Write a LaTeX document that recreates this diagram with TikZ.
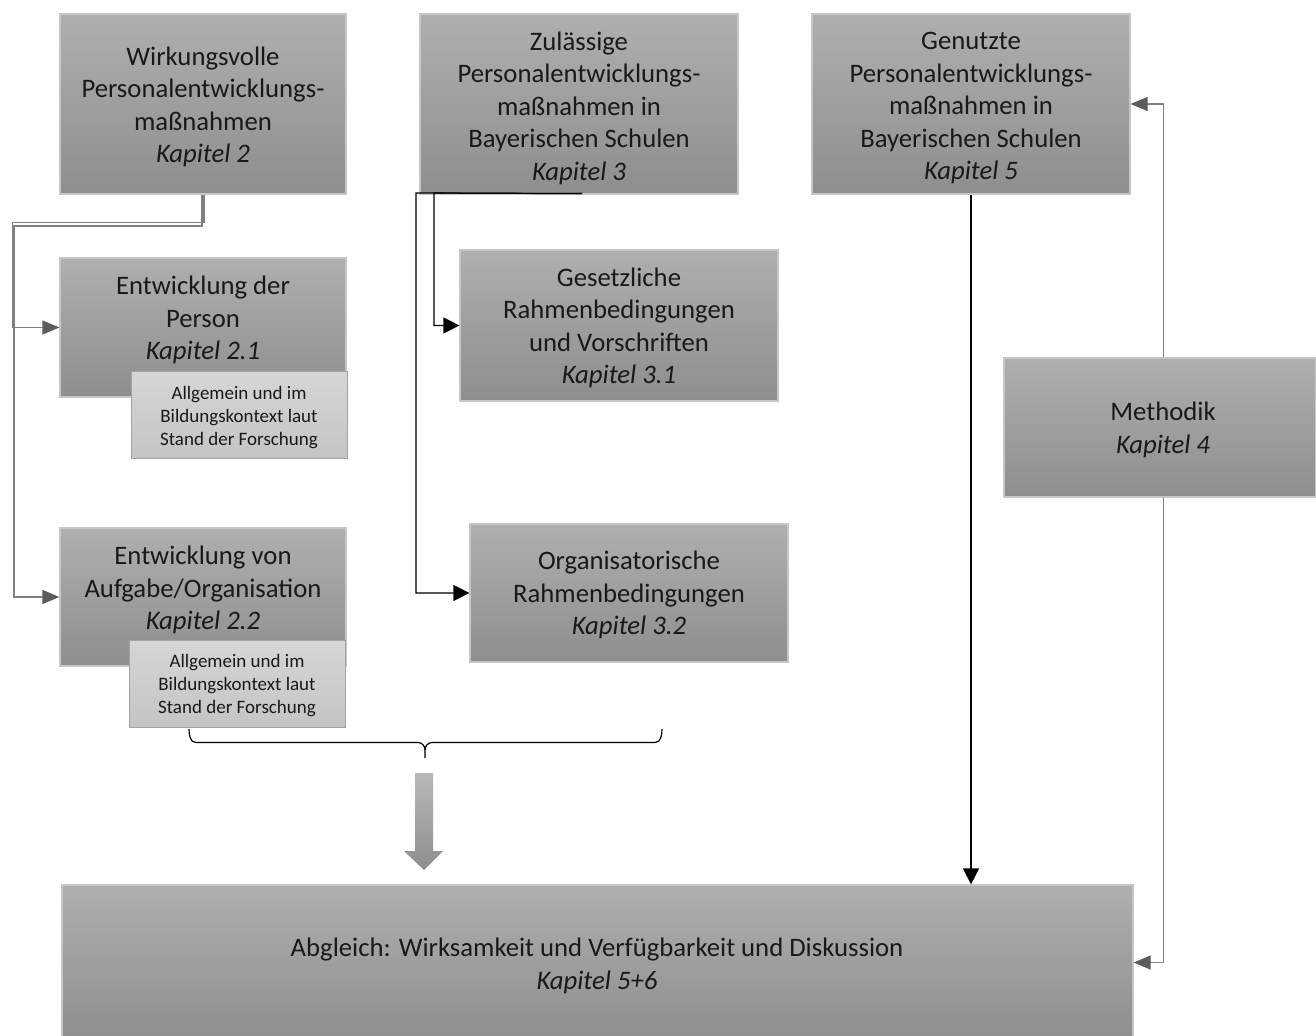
\documentclass[tikz,border=0pt]{standalone}
\usepackage{fontspec}
\setmainfont{Carlito}
\usetikzlibrary{arrows.meta,fit,calc}
\definecolor{boxtop}{HTML}{AFAFAF}
\definecolor{boxbot}{HTML}{8E8E8E}
\definecolor{boxline}{HTML}{C6C6C6}
\definecolor{notetop}{HTML}{D6D6D6}
\definecolor{notebot}{HTML}{C4C4C4}
\definecolor{noteline}{HTML}{A3A3A3}
\definecolor{conn}{HTML}{808080}
\definecolor{tipgray}{HTML}{5C5C5C}
\definecolor{arrtop}{HTML}{B8B8B8}
\definecolor{arrbot}{HTML}{8E8E8E}
\begin{document}
\begin{tikzpicture}[x=0.5pt,y=-0.5pt,
  box/.style={inner sep=0pt, top color=boxtop, bottom color=boxbot, draw=boxline, line width=0.6pt},
  note/.style={inner sep=0pt, top color=notetop, bottom color=notebot, draw=noteline, line width=0.5pt},
  txt/.style={align=center, font=\fontsize{13.35}{16.25}\selectfont, inner sep=0pt, text=black!90},
  ntxt/.style={align=center, font=\fontsize{9.5}{11.5}\selectfont, inner sep=0pt, text=black!90},
  grayc/.style={draw=conn, line width=0.6pt, -{Triangle[length=8.5pt,width=7pt,color=tipgray]}},
  blkc/.style={draw=black, line width=0.6pt, -{Triangle[length=8pt,width=8pt]}},
  bracec/.style={draw=black, line width=0.6pt}
]
\clip (0,0) rectangle (1316,1036);
\fill[white] (0,0) rectangle (1316,1036);

% main boxes
\node[box, fit={(60,14) (346,194)}] (b1) {};
\node[box, fit={(420,14) (738,194)}] (b2) {};
\node[box, fit={(812,14) (1130,194)}] (b3) {};
\node[box, fit={(60,258) (346,397)}] (b4) {};
\node[box, fit={(60,528) (346,666)}] (b5) {};
\node[box, fit={(460,250) (778,401)}] (b6) {};
\node[box, fit={(470,524) (788,662)}] (b7) {};
\node[box, fit={(1004,358) (1316,497)}] (b8) {};
\node[box, fit={(62,885) (1133,1040)}] (b9) {};

\node[txt] (t1) at (203,107) {Wirkungsvolle\\Personalentwicklungs-\\maßnahmen\\\textit{Kapitel 2}};
\node[txt] (t2) at (579,108) {Zulässige\\Personalentwicklungs-\\maßnahmen in\\Bayerischen Schulen\\\textit{Kapitel 3}};
\node[txt] (t3) at (971,108) {Genutzte\\Personalentwicklungs-\\maßnahmen in\\Bayerischen Schulen\\\textit{Kapitel 5}};
\node[txt] (t4) at (203,320) {Entwicklung der\\Person\\\textit{Kapitel 2.1}};
\node[txt] (t5) at (203,590) {Entwicklung von\\Aufgabe/Organisation\\\textit{Kapitel 2.2}};
\node[txt] (t6) at (619,328) {Gesetzliche\\Rahmenbedingungen\\und Vorschriften\\\textit{Kapitel 3.1}};
\node[txt] (t7) at (629,595) {Organisatorische\\Rahmenbedingungen\\\textit{Kapitel 3.2}};
\node[txt] (t8) at (1163,430) {Methodik\\\textit{Kapitel 4}};
\node[txt] (t9) at (597,966) {Abgleich: Wirksamkeit und Verfügbarkeit und Diskussion\\\textit{Kapitel 5+6}};

% notes overlapping the chapter 2 boxes
\node[note, fit={(131,372) (347,459)}] (n1) {};
\node[ntxt] (nt1) at (239,418) {Allgemein und im\\Bildungskontext laut\\Stand der Forschung};
\node[note, fit={(129,641) (345,727)}] (n2) {};
\node[ntxt] (nt2) at (237,686) {Allgemein und im\\Bildungskontext laut\\Stand der Forschung};

% chapter 2 branches (double gray elbow)
\draw[grayc] ([xshift=0.5pt]b1.south) -- (204,222.7) -- (12.7,222.7) |- (b4.west);
\draw[grayc] ([xshift=-0.5pt]b1.south) -- (202,226) -- (14,226) |- (b5.west);

% chapter 3 branches
\draw[blkc] ([xshift=1.5pt,yshift=0.5pt]b2.south) -- (434,193) |- (b6.west);
\draw[blkc] ([xshift=1.5pt,yshift=0.5pt]b2.south) -- (416,193) |- (b7.west);

% chapter 5 to comparison
\draw[blkc] (b3.south) -- (b3.south |- b9.north);

% method feeds chapter 5 and the comparison
\draw[grayc] ([xshift=1.8pt]b8.north) |- (b3.east);
\draw[grayc] ([xshift=1.8pt]b8.south) |- (b9.east);

% brace under the research parts
\coordinate (brl) at (189,729);
\coordinate (brr) at (662,729);
\coordinate (brm) at (425,758);
\draw[bracec] (brl) to[out=-90,in=180] (196,742.5) -- (418,742.5) to[out=0,in=90] (425,750) -- (brm);
\draw[bracec] (brr) to[out=-90,in=0] (655,742.5) -- (432,742.5) to[out=180,in=90] (425,750);

% block arrow down to the comparison
\shade[top color=arrtop, bottom color=arrbot]
  (415,773) -- (433,773) -- (433,851) -- (443,851) -- (424,870) -- (404,851) -- (415,851) -- cycle;
\end{tikzpicture}
\end{document}
